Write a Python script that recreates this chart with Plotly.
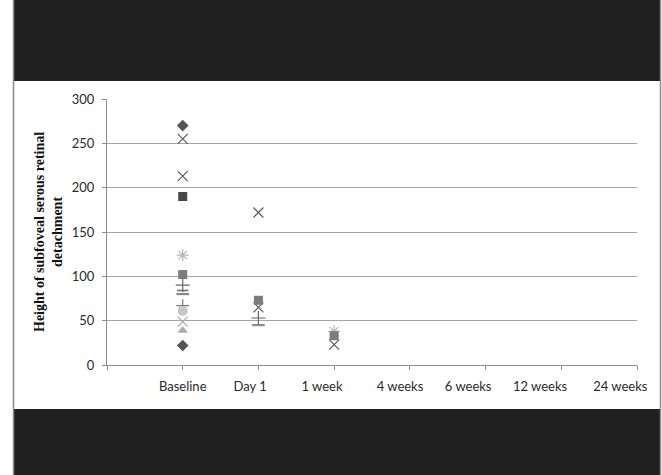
import plotly.graph_objects as go

categories = ["Baseline", "Day 1", "1 week", "4 weeks", "6 weeks", "12 weeks", "24 weeks"]
y_ticks = [0, 50, 100, 150, 200, 250, 300]

# One series per eye (values per time point; None = not recorded)
s_diamond_a = [270, None, None]
s_square_a = [190, None, None]
s_triangle = [39, None, None]
s_x_a = [255, 65, 23]
s_asterisk = [124, None, 38]
s_circle = [61, None, None]
s_plus = [90, 53, None]
s_dash_a = [80, 45, None]
s_square_b = [102, 73, 33]
s_x_b = [213, 172, None]
s_x_c = [49, None, None]
s_diamond_b = [22, None, None]
s_dash_b = [84, None, None]
s_plus_b = [67, None, None]

series = [
    (s_square_a, "square", "#474747", 9, 0),
    (s_diamond_a, "diamond", "#555555", 9, 0),
    (s_diamond_b, "diamond", "#555555", 9, 0),
    (s_x_b, "x-thin-open", "#5a5a5a", 10, 1.2),
    (s_x_a, "x-thin-open", "#5a5a5a", 10, 1.2),
    (s_asterisk, "asterisk-open", "#b4b4b4", 10, 1.2),
    (s_plus, "cross-thin-open", "#666666", 10, 1.2),
    (s_dash_b, "line-ew-open", "#707070", 8, 1.6),
    (s_dash_a, "line-ew-open", "#8a8a8a", 9, 2.2),
    (s_plus_b, "cross-thin-open", "#777777", 9, 1.2),
    (s_circle, "circle", "#c6c6c6", 10, 0),
    (s_x_c, "x-thin-open", "#a8a8a8", 10, 1.2),
    (s_triangle, "triangle-up", "#ababab", 9, 0),
    (s_square_b, "square", "#7c7c7c", 9, 0),
]

fig = go.Figure()
xpos = list(range(1, len(categories) + 1))
for vals, sym, col, size, lw in series:
    fig.add_trace(go.Scatter(
        x=xpos[:len(vals)], y=vals, mode="markers", showlegend=False,
        marker=dict(symbol=sym, color=col, size=size,
                    line=dict(color=col, width=lw)),
        hoverinfo="y",
    ))

# invisible trace so the label axis exists
fig.add_trace(go.Scatter(x=[0], y=[None], xaxis="x2", showlegend=False,
                         hoverinfo="skip"))

L, R, T, B = 107, 25, 99, 110
W, H = 662, 475
pw, ph = W - L - R, H - T - B

def px(x):
    return (x - L) / pw

def py(y):
    return (H - B - y) / ph

label_pos = [1.0, 1.89, 2.84, 3.87, 4.77, 5.72, 6.78]
tick_font = dict(family="Lato", size=13, color="#2a2a2a")

fig.update_layout(
    width=W, height=H,
    margin=dict(l=L, r=R, t=T, b=B, pad=0),
    paper_bgcolor="white", plot_bgcolor="rgba(0,0,0,0)",
    font=dict(family="Lato", size=13, color="#2a2a2a"),
    xaxis=dict(range=[0, 7], tickvals=list(range(0, 8)), showticklabels=False,
               ticks="outside", ticklen=4, tickcolor="#8c8c8c",
               showgrid=False, zeroline=False, showline=True,
               linecolor="#8c8c8c", linewidth=1),
    xaxis2=dict(range=[0, 7], overlaying="x", side="bottom", anchor="y",
                tickvals=label_pos, ticktext=categories, ticks="",
                showgrid=False, zeroline=False, showline=False,
                ticklabelstandoff=12, tickfont=tick_font),
    yaxis=dict(range=[0, 300], tickvals=y_ticks, ticks="outside", ticklen=4,
               tickcolor="#8c8c8c", showgrid=True, gridcolor="#a6a6a6",
               gridwidth=1, zeroline=False, showline=True,
               linecolor="#8c8c8c", linewidth=1, ticklabelstandoff=5,
               tickfont=tick_font),
    shapes=[
        dict(type="rect", xref="paper", yref="paper", x0=px(14), x1=px(660),
             y0=py(475), y1=py(0), fillcolor="#202020", line=dict(width=0), layer="below"),
        dict(type="rect", xref="paper", yref="paper", x0=px(14), x1=px(660),
             y0=py(409), y1=py(81), fillcolor="white", line=dict(width=0), layer="below"),
        dict(type="line", xref="paper", yref="paper", x0=px(13.5), x1=px(13.5),
             y0=py(475), y1=py(0), line=dict(color="#8a8a8a", width=1.5), layer="below"),
        dict(type="line", xref="paper", yref="paper", x0=px(660.5), x1=px(660.5),
             y0=py(475), y1=py(0), line=dict(color="#8a8a8a", width=1.5), layer="below"),
    ],
    annotations=[
        dict(text="Height of subfoveal serous retinal<br>detachment",
             xref="paper", yref="paper", x=px(48), y=0.5, textangle=-90,
             showarrow=False, xanchor="center", yanchor="middle",
             font=dict(family="Liberation Serif", size=14, color="#111111"),
             ),
    ],
)
fig.update_annotations(font_weight="bold")

fig.write_html("out.html", config={"displayModeBar": False},
               post_script="document.body.style.margin='0';document.body.style.overflow='hidden';")
